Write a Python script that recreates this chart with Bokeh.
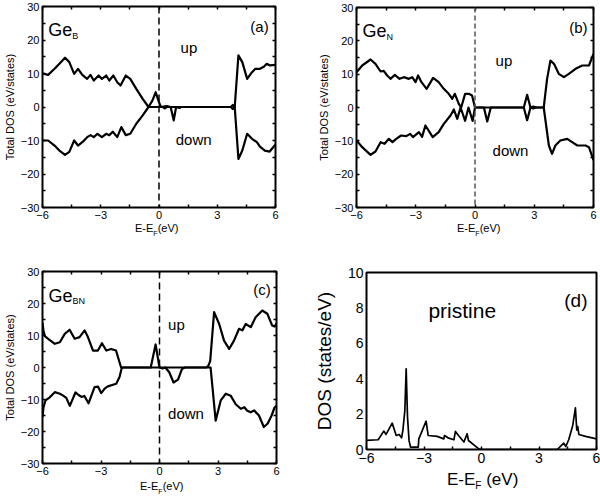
from bokeh.plotting import figure
from bokeh.models import Range1d, FixedTicker, LinearAxis, Span, Label, Div
from bokeh.layouts import column, row
from bokeh.embed import file_html
from bokeh.resources import INLINE

FONT = "Liberation Sans"

# ---------------- data ----------------
e_ticks = [-6, -3, 0, 3, 6]
e_minor = [-4.5, -1.5, 1.5, 4.5]
tdos_ticks = [-30, -20, -10, 0, 10, 20, 30]
tdos_minor = [-25, -15, -5, 5, 15, 25]
dos_ticks = [0, 2, 4, 6, 8, 10]

# (a) Ge_B
a_up_e = [-6.0, -5.71, -5.38, -5.13, -4.84, -4.62, -4.37, -4.17, -3.95, -3.70, -3.53, -3.36, -3.11, -2.94,
          -2.72, -2.56, -2.35, -2.15, -1.98, -1.71, -1.48, -1.17, -0.84, -0.54, -0.34, -0.17, -0.03, 0.09,
          0.4, 0.6, 3.7, 3.8, 3.9, 4.09, 4.29, 4.54, 4.79, 4.96, 5.2, 5.4, 5.55, 5.71, 6.0]
a_up = [10.0, 9.6, 11.4, 12.9, 14.7, 13.4, 9.9, 11.4, 9.6, 8.4, 9.6, 7.9, 9.4, 8.4,
        9.4, 7.9, 9.4, 7.4, 6.4, 9.4, 8.4, 5.4, 2.4, 0.0, 1.9, 4.4, 1.9, 0.0,
        0.3, 0.0, 0.0, 0.6, 0.0, 15.4, 13.4, 8.4, 10.4, 11.4, 11.4, 12.0, 12.9, 12.4, 12.6]
a_dn_e = [-6.0, -5.71, -5.38, -5.13, -4.84, -4.62, -4.37, -4.17, -3.95, -3.70, -3.53, -3.36, -3.17, -2.94,
          -2.72, -2.56, -2.38, -2.15, -1.94, -1.71, -1.48, -1.17, -0.84, -0.54, 0.2, 0.3, 0.4, 0.6,
          0.76, 0.88, 1.05, 1.15, 3.7, 3.8, 3.9, 4.09, 4.29, 4.54, 4.79, 5.04, 5.2, 5.45, 5.7, 6.0]
a_dn = [-10.0, -10.0, -11.5, -13.0, -14.3, -13.4, -10.0, -11.5, -10.5, -9.0, -8.4, -9.0, -8.0, -9.0,
        -8.0, -8.4, -7.4, -9.0, -6.0, -8.4, -8.0, -5.0, -2.5, 0.0, 0.0, -0.4, 0.0, 0.0,
        -4.0, 0.0, -0.3, 0.0, 0.0, -0.6, 0.0, -15.5, -13.0, -8.0, -9.5, -10.5, -11.8, -13.0, -13.3, -11.2]

# (b) Ge_N
b_up_e = [-6.0, -5.71, -5.29, -5.04, -4.78, -4.62, -4.45, -4.28, -4.06, -3.82, -3.6, -3.35, -3.18, -3.01,
          -2.88, -2.71, -2.45, -2.12, -1.84, -1.58, -1.33, -1.15, -1.02, -0.82, -0.7, -0.5, -0.31, -0.15,
          0.0, 2.47, 2.64, 2.81, 2.95, 3.1, 3.48, 3.65, 3.82, 4.0, 4.24, 4.5, 4.75, 5.09, 5.43, 5.77, 6.0]
b_up = [10.6, 12.6, 14.4, 13.1, 10.8, 11.0, 9.6, 8.6, 9.8, 8.6, 9.1, 8.6, 9.1, 7.6,
        9.6, 7.6, 5.6, 8.9, 7.6, 5.6, 4.1, 2.6, 4.1, 1.1, 0.0, 4.1, 4.1, 3.6,
        0.0, 0.0, 3.8, 0.0, 0.3, 0.0, 0.0, 8.6, 14.1, 13.1, 10.1, 9.1, 10.1, 11.6, 12.6, 12.6, 16.1]
b_dn_e = [-6.0, -5.71, -5.29, -5.04, -4.78, -4.58, -4.36, -4.18, -3.99, -3.74, -3.48, -3.28, -3.14, -2.84,
          -2.68, -2.51, -2.14, -1.84, -1.58, -1.24, -1.07, -0.9, -0.73, -0.5, -0.33, -0.12, 0.0, 0.45,
          0.62, 0.8, 2.47, 2.64, 2.81, 2.95, 3.1, 3.48, 3.74, 3.9, 4.07, 4.32, 4.67, 4.92, 5.18, 5.6,
          5.77, 6.0]
b_dn = [-9.9, -11.9, -14.2, -13.2, -10.4, -10.9, -9.4, -10.4, -9.4, -8.4, -8.6, -7.9, -8.9, -7.4,
        -8.8, -5.4, -8.9, -7.4, -4.9, -2.4, -0.6, -3.4, 0.0, -4.0, 0.0, -4.0, 0.0, 0.0,
        -4.2, 0.0, 0.0, -3.8, 0.0, -0.3, 0.0, 0.0, -11.4, -13.9, -11.4, -9.9, -9.4, -10.4, -11.4, -11.4,
        -11.9, -15.8]

# (c) Ge_BN
c_up_e = [-6.0, -5.95, -5.88, -5.64, -5.37, -5.11, -4.86, -4.61, -4.35, -4.1, -3.84, -3.67, -3.41, -3.16,
          -2.95, -2.73, -2.48, -2.23, -1.97, -0.45, -0.2, 0.0, 2.4, 2.5, 2.6, 2.8, 3.06, 3.31,
          3.57, 3.82, 4.08, 4.25, 4.42, 4.68, 4.93, 5.27, 5.53, 5.78, 5.9, 6.0]
c_up = [14.0, 11.5, 9.8, 8.6, 7.4, 7.9, 10.5, 11.8, 9.0, 9.5, 11.6, 9.5, 5.3, 5.3,
        7.6, 5.3, 5.8, 5.3, 0.0, 0.0, 7.2, 0.0, 0.0, 0.5, 2.0, 17.3, 13.6, 8.4,
        5.8, 8.4, 12.1, 11.6, 13.6, 12.6, 15.7, 17.8, 16.8, 13.1, 12.8, 13.8]
c_dn_e = [-6.0, -5.95, -5.85, -5.64, -5.37, -5.11, -4.94, -4.78, -4.6, -4.31, -4.15, -4.0, -3.85, -3.64,
          -3.33, -3.15, -2.99, -2.8, -2.65, -2.22, -2.05, -1.93, 0.0, 0.15, 0.3, 0.5, 0.72, 0.95,
          1.15, 1.3, 2.62, 2.88, 3.14, 3.4, 3.65, 3.91, 4.17, 4.35, 4.5, 4.68, 4.85, 5.1, 5.35, 5.55,
          5.75, 5.9, 6.0]
c_dn = [-15.5, -12.5, -10.3, -9.4, -7.7, -8.2, -8.8, -9.5, -12.0, -7.8, -8.6, -9.2, -8.9, -11.2,
        -6.1, -6.0, -8.0, -6.5, -5.9, -5.1, -3.0, 0.0, 0.0, -0.3, 0.0, -1.5, -4.7, -3.8,
        -0.5, 0.0, 0.0, -16.6, -10.3, -8.2, -8.8, -11.5, -12.9, -12.4, -13.5, -14.0, -13.4, -15.0, -18.6, -17.5,
        -15.0, -12.5, -12.0]

# (d) pristine
d_e = [-6.0, -5.39, -5.1, -4.98, -4.66, -4.45, -4.3, -4.17, -4.1, -4.0, -3.93, -3.86, -3.78, -3.70,
       -3.30, -3.27, -2.89, -2.78, -2.31, -1.97, -1.93, -1.75, -1.44, -1.36, -1.2, -0.92, -0.75, -0.68,
       -0.14, 0.0, 3.95, 4.29, 4.4, 4.55, 4.76, 4.9, 4.97, 5.02, 5.08, 5.43, 6.0]
d_dos = [0.51, 0.55, 1.04, 0.85, 1.49, 0.79, 0.85, 0.66, 1.1, 2.2, 4.56, 1.83, 0.5, 0.13,
         0.13, 0.6, 1.6, 0.79, 0.74, 0.6, 0.79, 0.66, 0.55, 1.02, 0.79, 0.42, 0.89, 0.51,
         0.04, 0.0, 0.0, 0.36, 0.17, 0.55, 1.36, 2.35, 1.1, 1.3, 0.85, 0.74, 0.6]


def panel(w, h, left, right, top, bottom, ylo, yhi, yticks, yminor, ylabel,
          tick_fs, label_fs, mirror, tick_in, y_tick_in, label_standoff, axis_label_standoff):
    p = figure(width=w, height=h, x_range=Range1d(-6, 6), y_range=Range1d(ylo, yhi),
               output_backend="svg", toolbar_location=None,
               min_border_left=left, min_border_right=right,
               min_border_top=top, min_border_bottom=bottom)
    p.grid.visible = False
    p.outline_line_color = "black"
    p.outline_line_width = 2
    p.outline_line_alpha = 1
    p.background_fill_color = "white"
    p.border_fill_color = "white"
    p.xaxis.ticker = FixedTicker(ticks=e_ticks, minor_ticks=e_minor)
    p.yaxis.ticker = FixedTicker(ticks=yticks, minor_ticks=yminor)
    for ax in p.axis:
        ax.axis_line_color = None
        ax.major_tick_out = 0
        ax.minor_tick_out = 0
        ax.major_tick_line_width = 1.5
        ax.minor_tick_line_width = 1.5
        ax.major_label_text_font = FONT
        ax.major_label_text_font_size = f"{tick_fs}px"
        ax.major_label_text_color = "black"
        ax.major_label_standoff = label_standoff
        ax.axis_label_text_font = FONT
        ax.axis_label_text_font_style = "normal"
        ax.axis_label_text_font_size = f"{label_fs}px"
        ax.axis_label_text_color = "black"
        ax.axis_label_standoff = axis_label_standoff
    p.xaxis.major_tick_in = tick_in
    p.xaxis.minor_tick_in = tick_in
    p.yaxis.major_tick_in = y_tick_in
    p.yaxis.minor_tick_in = y_tick_in
    p.yaxis.axis_label = ylabel
    if mirror:
        for loc, tk in (("above", FixedTicker(ticks=e_ticks, minor_ticks=e_minor)),
                        ("right", FixedTicker(ticks=yticks, minor_ticks=yminor))):
            ax = LinearAxis(ticker=tk, major_label_text_font_size="0px", major_label_standoff=0,
                            major_label_text_color=None,
                            axis_line_color=None, major_tick_in=tick_in, major_tick_out=0,
                            minor_tick_in=tick_in, minor_tick_out=0,
                            major_tick_line_width=1.5, minor_tick_line_width=1.5)
            p.add_layout(ax, loc)
    return p


def txt(p, x, y, text, size, align="left", x_offset=0):
    p.add_layout(Label(x=x, y=y, text=text, text_font=FONT, text_font_size=f"{size}px",
                       text_color="black", text_align=align, text_baseline="alphabetic",
                       x_offset=x_offset))


def xlabel_div(width, height, indent, fs, sub_fs, sub_drop, rest, lift=0):
    html = (f'<div style="position:relative;left:{indent}px;top:{-lift}px;text-indent:0">'
            f'E-E<span style="font-size:{sub_fs}px;position:relative;top:{sub_drop}px">F</span>'
            f'{rest}</div>')
    return Div(text=html, width=width, height=height,
               styles={"font-family": FONT, "font-size": f"{fs}px", "line-height": f"{fs}px",
                       "color": "black", "text-align": "left",
                       "white-space": "nowrap", "margin": "0", "padding": "0"})


def spin_panel(w, h, left, right, top, bottom, ue, u, de, d, dash, dash_color):
    p = panel(w, h, left, right, top, bottom, -30, 30, tdos_ticks, tdos_minor,
              "Total DOS (eV/states)", 11, 11, True, 3, 3, 3, 2)
    p.add_layout(Span(location=0, dimension="height", line_color=dash_color,
                      line_dash=dash, line_width=1.5))
    p.line(ue, u, line_color="black", line_width=2.2, line_join="round")
    p.line(de, d, line_color="black", line_width=2.2, line_join="round")
    return p


# (a)
pa = spin_panel(300, 223, 37, 25, 6, 16, a_up_e, a_up, a_dn_e, a_dn, "7 4", "black")
txt(pa, -5.70, 23.1, "Ge", 18)
txt(pa, -5.70, 21.3, "B", 9, x_offset=24)
txt(pa, 5.65, 24.0, "(a)", 15, align="right")
txt(pa, 1.11, 17.9, "up", 15)
txt(pa, 0.86, -9.8, "down", 15)
da = xlabel_div(300, 20, 135, 11, 7, 4, "(eV)")

# (b)
pb = spin_panel(300, 223, 56, 7, 7, 16, b_up_e, b_up, b_dn_e, b_dn, "5 3", "#555555")
txt(pb, -5.70, 22.9, "Ge", 18)
txt(pb, -5.70, 21.1, "N", 9, x_offset=24)
txt(pb, 5.70, 24.1, "(b)", 15, align="right")
txt(pb, 1.04, 14.1, "up", 15)
txt(pb, 0.89, -12.9, "down", 15)
db = xlabel_div(300, 20, 157, 11, 7, 4, "(eV)")

# (c)
pc = spin_panel(300, 236, 41, 24, 28, 16, c_up_e, c_up, c_dn_e, c_dn, "7 4", "black")
txt(pc, -5.69, 22.2, "Ge", 18)
txt(pc, -5.69, 20.9, "BN", 9, x_offset=24)
txt(pc, 5.70, 24.3, "(c)", 15, align="right")
txt(pc, 0.44, 13.4, "up", 15)
txt(pc, 0.44, -14.3, "down", 15)
dc = xlabel_div(300, 18, 140, 11, 7, 4, "(eV)", lift=-2)

# (d)
pd = panel(300, 226, 66, 4, 29, 20, 0, 10, dos_ticks, [], "DOS (states/eV)",
           14, 19, False, 3, 0, 3, 10)
pd.line(d_e, d_dos, line_color="black", line_width=1.7, line_join="round")
txt(pd, -2.77, 7.85, "pristine", 21)
txt(pd, 5.53, 8.4, "(d)", 19, align="right")
dd = xlabel_div(300, 28, 147, 17, 10, 4, " (eV)", lift=-2)

layout = column(row(column(pa, da), column(pb, db)),
                row(column(pc, dc), column(pd, dd)))

open("out.html", "w").write(file_html(layout, INLINE))
